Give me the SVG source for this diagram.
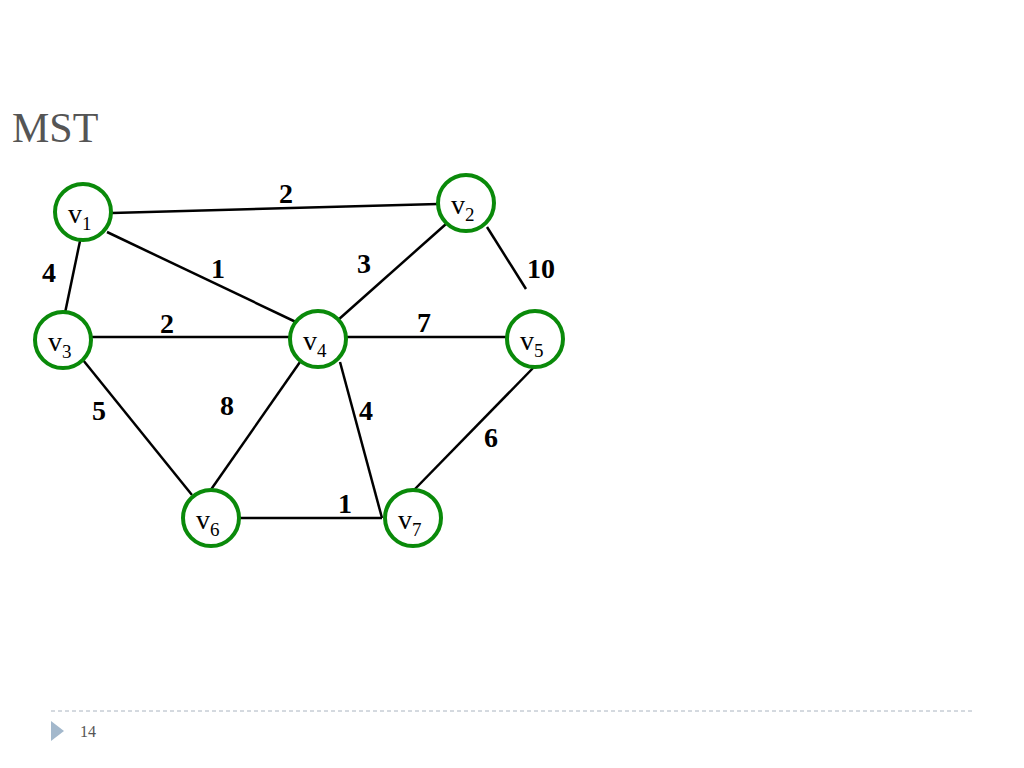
<svg xmlns="http://www.w3.org/2000/svg" width="1024" height="768" viewBox="0 0 1024 768">
<style>
.n{fill:#fff;stroke:#0a8a0a;stroke-width:4}
.e{stroke:#000;stroke-width:2.5}
.v{font-family:"Liberation Serif",serif;font-size:28px;fill:#000}
.s{font-size:19px}
.w{font-family:"Liberation Serif",serif;font-size:28px;font-weight:bold;fill:#000}
</style>
<rect width="1024" height="768" fill="#fff"/>
<text x="12" y="142" font-family="Liberation Serif,serif" font-size="42" fill="#555">MST</text>
<g id="connectors">
<line class="e" x1="112" y1="213" x2="438" y2="204"/>
<line class="e" x1="107" y1="232" x2="298" y2="323"/>
<line class="e" x1="446" y1="224" x2="338" y2="320"/>
<line class="e" x1="487" y1="227" x2="526" y2="289"/>
<line class="e" x1="80" y1="241" x2="65" y2="313"/>
<line class="e" x1="92" y1="337" x2="290" y2="337"/>
<line class="e" x1="346" y1="337" x2="507" y2="337"/>
<line class="e" x1="83" y1="360" x2="192" y2="495"/>
<line class="e" x1="300" y1="362" x2="210" y2="491"/>
<line class="e" x1="340" y1="362" x2="382" y2="518"/>
<line class="e" x1="240" y1="518" x2="382" y2="518"/>
<line class="e" x1="535" y1="366" x2="414" y2="490"/>
</g>
<g id="weights" class="w">
<text x="279" y="203">2</text>
<text x="211" y="278">1</text>
<text x="357" y="273">3</text>
<text x="527" y="278">10</text>
<text x="42" y="282">4</text>
<text x="160" y="333">2</text>
<text x="417" y="332">7</text>
<text x="92" y="420">5</text>
<text x="220" y="415">8</text>
<text x="359" y="420">4</text>
<text x="484" y="447">6</text>
<text x="338" y="513">1</text>
</g>
<g id="v1"><circle class="n" cx="83" cy="212" r="28"/><text class="v" x="68" y="223">v<tspan class="s" dy="7">1</tspan></text></g>
<g id="v2"><circle class="n" cx="466" cy="203" r="28"/><text class="v" x="451" y="214">v<tspan class="s" dy="7">2</tspan></text></g>
<g id="v3"><circle class="n" cx="63" cy="340" r="28"/><text class="v" x="48" y="351">v<tspan class="s" dy="7">3</tspan></text></g>
<g id="v4"><circle class="n" cx="318" cy="339" r="28"/><text class="v" x="303" y="350">v<tspan class="s" dy="7">4</tspan></text></g>
<g id="v5"><circle class="n" cx="535" cy="339" r="28"/><text class="v" x="520" y="350">v<tspan class="s" dy="7">5</tspan></text></g>
<g id="v6"><circle class="n" cx="211" cy="518" r="28"/><text class="v" x="196" y="529">v<tspan class="s" dy="7">6</tspan></text></g>
<g id="v7"><circle class="n" cx="413" cy="518" r="28"/><text class="v" x="398" y="529">v<tspan class="s" dy="7">7</tspan></text></g>
<line x1="51" y1="711" x2="972" y2="711" stroke="#aab4c0" stroke-width="1" stroke-dasharray="4,3"/>
<polygon points="51,721 64,731 51,741" fill="#a3b8cc"/>
<text x="80" y="737" font-family="Liberation Serif,serif" font-size="16" fill="#555">14</text>
</svg>
